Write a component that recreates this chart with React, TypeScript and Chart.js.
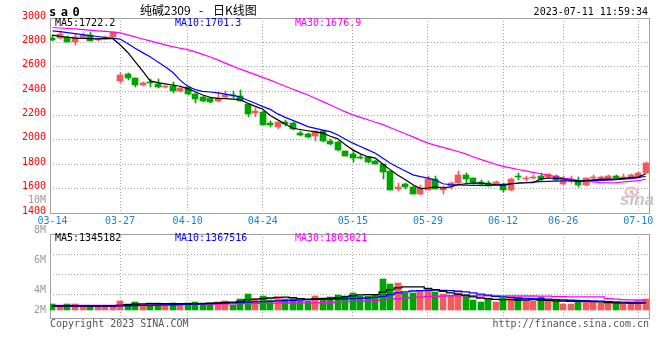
import React, { useEffect, useRef } from "react";
import { Chart, registerables } from "chart.js";

Chart.register(...registerables);

// ---------------- data ----------------
const DATES = [
  "03-14", "03-15", "03-16", "03-17", "03-20", "03-21", "03-22", "03-23", "03-24", "03-27",
  "03-28", "03-29", "03-30", "03-31", "04-03", "04-04", "04-06", "04-07", "04-10", "04-11",
  "04-12", "04-13", "04-14", "04-17", "04-18", "04-19", "04-20", "04-21", "04-24", "04-25",
  "04-26", "04-27", "04-28", "05-04", "05-05", "05-08", "05-09", "05-10", "05-11", "05-12",
  "05-15", "05-16", "05-17", "05-18", "05-19", "05-22", "05-23", "05-24", "05-25", "05-26",
  "05-29", "05-30", "05-31", "06-01", "06-02", "06-05", "06-06", "06-07", "06-08", "06-09",
  "06-12", "06-13", "06-14", "06-15", "06-16", "06-19", "06-20", "06-21", "06-26", "06-27",
  "06-28", "06-29", "06-30", "07-03", "07-04", "07-05", "07-06", "07-07", "07-10", "07-11",
];

const OPEN = [
  2840, 2833, 2841, 2800, 2840, 2860, 2818, 2830, 2841, 2480,
  2540, 2505, 2450, 2475, 2462, 2430, 2440, 2398, 2435, 2380,
  2352, 2345, 2315, 2348, 2360, 2363, 2293, 2222, 2230, 2138,
  2105, 2148, 2135, 2055, 2050, 2035, 2072, 1993, 1985, 1908,
  1882, 1862, 1857, 1828, 1803, 1745, 1593, 1636, 1617, 1560,
  1592, 1677, 1592, 1620, 1648, 1712, 1684, 1657, 1645, 1633,
  1640, 1588, 1707, 1678, 1687, 1703, 1692, 1706, 1638, 1666,
  1665, 1627, 1684, 1682, 1680, 1703, 1688, 1688, 1697, 1728,
];
const HIGH = [
  2858, 2885, 2850, 2865, 2878, 2882, 2840, 2852, 2885, 2551,
  2545, 2510, 2472, 2497, 2497, 2446, 2476, 2432, 2442, 2385,
  2358, 2350, 2396, 2404, 2404, 2409, 2298, 2260, 2235, 2155,
  2150, 2160, 2150, 2072, 2058, 2076, 2078, 2010, 1990, 1912,
  1920, 1875, 1862, 1832, 1806, 1748, 1650, 1645, 1620, 1632,
  1701, 1700, 1620, 1655, 1746, 1730, 1690, 1670, 1662, 1665,
  1645, 1685, 1732, 1700, 1712, 1725, 1722, 1712, 1700, 1700,
  1698, 1690, 1712, 1700, 1708, 1712, 1718, 1716, 1735, 1822,
];
const LOW = [
  2815, 2828, 2800, 2778, 2835, 2810, 2808, 2825, 2838, 2469,
  2495, 2432, 2445, 2437, 2425, 2425, 2382, 2390, 2370, 2300,
  2310, 2300, 2310, 2344, 2342, 2315, 2191, 2191, 2120, 2104,
  2088, 2115, 2085, 2031, 2015, 1994, 1985, 1962, 1908, 1865,
  1822, 1840, 1812, 1800, 1681, 1590, 1577, 1600, 1555, 1545,
  1588, 1595, 1555, 1600, 1640, 1640, 1640, 1625, 1618, 1628,
  1575, 1582, 1673, 1665, 1680, 1665, 1688, 1662, 1630, 1650,
  1615, 1622, 1678, 1676, 1675, 1680, 1680, 1684, 1690, 1725,
];
const CLOSE = [
  2822, 2866, 2805, 2846, 2858, 2813, 2830, 2845, 2882, 2530,
  2508, 2447, 2468, 2466, 2430, 2440, 2403, 2428, 2378, 2337,
  2322, 2308, 2345, 2366, 2356, 2318, 2212, 2238, 2125, 2118,
  2148, 2133, 2090, 2043, 2025, 2072, 1988, 1968, 1913, 1870,
  1848, 1852, 1815, 1805, 1738, 1592, 1617, 1615, 1560, 1603,
  1676, 1600, 1615, 1648, 1712, 1680, 1648, 1635, 1620, 1657,
  1587, 1680, 1697, 1684, 1699, 1675, 1717, 1668, 1680, 1672,
  1628, 1685, 1693, 1694, 1703, 1685, 1698, 1711, 1730, 1812,
];

const MA5 = [
  2860, 2850, 2842, 2835, 2832, 2830, 2828, 2830, 2832, 2780,
  2719, 2642, 2567, 2484, 2470, 2460, 2450, 2440, 2420, 2395,
  2368, 2350, 2341, 2338, 2335, 2330, 2300, 2275, 2251, 2200,
  2164, 2130, 2095, 2085, 2075, 2065, 2055, 2030, 2008, 1960,
  1918, 1885, 1862, 1850, 1800, 1754, 1710, 1673, 1632, 1600,
  1605, 1615, 1605, 1615, 1632, 1640, 1646, 1645, 1640, 1632,
  1626, 1638, 1646, 1648, 1650, 1678, 1687, 1685, 1681, 1670,
  1659, 1665, 1673, 1676, 1678, 1678, 1684, 1690, 1695, 1722.2,
];
const MA10 = [
  2894, 2888, 2880, 2872, 2864, 2856, 2848, 2840, 2834, 2827,
  2790, 2751, 2716, 2682, 2640, 2600, 2555, 2490, 2440, 2412,
  2398, 2393, 2385, 2375, 2365, 2352, 2325, 2300, 2273, 2250,
  2213, 2185, 2160, 2135, 2109, 2094, 2080, 2068, 2040, 2005,
  1973, 1945, 1918, 1891, 1850, 1809, 1775, 1745, 1713, 1698,
  1686, 1670, 1640, 1632, 1630, 1628, 1626, 1626, 1626, 1628,
  1634, 1640, 1644, 1648, 1654, 1657, 1660, 1662, 1664, 1664,
  1664, 1665, 1666, 1668, 1670, 1673, 1677, 1682, 1690, 1701.3,
];
const MA30 = [
  2922, 2918, 2914, 2910, 2905, 2900, 2895, 2890, 2885, 2878,
  2862, 2845, 2828, 2812, 2796, 2780, 2765, 2752, 2740, 2722,
  2702, 2680, 2656, 2630, 2605, 2580, 2558, 2535, 2513, 2490,
  2465, 2440, 2415, 2392, 2368, 2342, 2314, 2286, 2258, 2230,
  2205, 2185, 2165, 2145, 2125, 2100, 2075, 2050, 2025, 1998,
  1973, 1955, 1938, 1922, 1905, 1885, 1862, 1840, 1820, 1800,
  1782, 1770, 1757, 1745, 1733, 1722, 1710, 1698, 1687, 1680,
  1668, 1660, 1655, 1650, 1648, 1648, 1655, 1660, 1665, 1676.9,
];

// volumes, in millions
const VOLUME_M = [
  1.2, 0.84, 1.2, 1.2, 0.84, 0.84, 0.84, 0.84, 0.84, 1.73,
  1.2, 1.55, 0.96, 1.37, 1.37, 0.96, 1.37, 0.96, 1.37, 1.55,
  1.37, 1.37, 1.55, 1.73, 1.0, 2.09, 2.98, 2.09, 2.62, 1.8,
  2.44, 2.03, 2.03, 1.73, 1.73, 2.62, 2.27, 2.44, 2.74, 2.62,
  3.16, 2.62, 2.62, 2.74, 5.66, 4.77, 4.95, 3.16, 3.16, 3.52,
  3.87, 3.34, 2.98, 2.62, 3.16, 2.74, 1.91, 1.55, 2.09, 1.55,
  2.27, 2.44, 2.27, 1.73, 1.73, 2.44, 1.73, 1.73, 1.2, 1.2,
  1.91, 1.73, 1.55, 1.37, 1.37, 1.37, 1.2, 1.55, 1.73, 2.09,
];
const VOL_MA5_M = [
  0.8, 0.8, 0.8, 0.8, 0.8, 0.8, 0.8, 0.8, 0.8, 0.9,
  1.0, 1.1, 1.15, 1.2, 1.2, 1.2, 1.2, 1.2, 1.2, 1.2,
  1.2, 1.3, 1.35, 1.4, 1.45, 1.6, 1.9, 2.0, 2.1, 2.2,
  2.3, 2.35, 2.25, 2.1, 2.0, 2.05, 2.1, 2.15, 2.25, 2.4,
  2.6, 2.75, 2.8, 2.8, 3.3, 3.7, 4.0, 4.2, 4.2, 4.2,
  3.9, 3.7, 3.4, 3.1, 2.9, 2.7, 2.4, 2.2, 2.1, 1.95,
  1.9, 1.9, 1.85, 1.85, 1.9, 1.85, 1.8, 1.7, 1.65, 1.6,
  1.6, 1.6, 1.55, 1.5, 1.4, 1.35, 1.3, 1.3, 1.3, 1.345182,
];
const VOL_MA10_M = [
  0.75, 0.75, 0.75, 0.75, 0.75, 0.75, 0.75, 0.75, 0.75, 0.8,
  0.82, 0.85, 0.88, 0.9, 0.93, 0.96, 1.0, 1.03, 1.06, 1.1,
  1.15, 1.2, 1.25, 1.3, 1.35, 1.4, 1.45, 1.5, 1.55, 1.6,
  1.7, 1.75, 1.8, 1.85, 1.9, 1.95, 2.0, 2.0, 2.0, 2.05,
  2.1, 2.15, 2.2, 2.3, 2.5, 2.8, 3.1, 3.3, 3.45, 3.5,
  3.55, 3.6, 3.55, 3.5, 3.4, 3.3, 3.1, 2.9, 2.7, 2.5,
  2.4, 2.3, 2.2, 2.15, 2.1, 2.05, 2.0, 1.9, 1.85, 1.8,
  1.75, 1.72, 1.7, 1.65, 1.55, 1.5, 1.45, 1.4, 1.38, 1.367516,
];
const VOL_MA30_M = [
  0.9, 0.9, 0.9, 0.9, 0.9, 0.9, 0.9, 0.9, 0.9, 0.95,
  0.96, 0.97, 0.98, 1.0, 1.01, 1.02, 1.03, 1.05, 1.06, 1.08,
  1.1, 1.11, 1.12, 1.14, 1.15, 1.2, 1.22, 1.24, 1.26, 1.28,
  1.3, 1.31, 1.32, 1.33, 1.34, 1.35, 1.36, 1.37, 1.5, 1.55,
  1.6, 1.65, 1.7, 1.75, 1.9, 2.0, 2.1, 2.2, 2.3, 2.35,
  2.45, 2.5, 2.55, 2.6, 2.6, 2.6, 2.6, 2.58, 2.58, 2.57,
  2.57, 2.57, 2.56, 2.56, 2.56, 2.55, 2.55, 2.45, 2.45, 2.4,
  2.4, 2.4, 2.4, 2.4, 2.1, 2.0, 1.9, 1.88, 1.85, 1.803021,
];

const X_TICK_DATES = ["03-14", "03-27", "04-10", "04-24", "05-15", "05-29", "06-12", "06-26", "07-10"];
const PRICE_TICKS = [1400, 1600, 1800, 2000, 2200, 2400, 2600, 2800, 3000];
const VOL_TICK_LABELS = ["10M", "8M", "6M", "4M", "2M"];
const VOL_GRID_M = [2.8, 6.4, 10];

const SYMBOL = "sa0";
const TITLE_NAME = "纯碱2309";
const TITLE_DASH = "-";
const TITLE_KIND = "日K线图";
const TIMESTAMP = "2023-07-11 11:59:34";
const COPYRIGHT = "Copyright 2023 SINA.COM";
const SITE = "http://finance.sina.com.cn";
const WATERMARK = "sina";

// ---------------- style ----------------
const W = 660;
const H = 360;
const MONO = '"DejaVu Sans Mono", "Liberation Mono", monospace';
const CJK = '"Noto Sans CJK SC", sans-serif';
const UP = "#f35b5b";
const DOWN = "#00a400";
const GRID = "#a8a8a8";
const FRAME = "#a0a0a0";
const X_LABEL = "#1784dc";
const C_MA5 = "#000000";
const C_MA10 = "#0000ff";
const C_MA30 = "#ff00ff";

const N = DATES.length;
const IDX = DATES.map((_, i) => i);
const CANDLE_COLORS = IDX.map((i) => (CLOSE[i] >= OPEN[i] ? UP : DOWN));
const X_MIN = -0.33;
const X_MAX = N - 1 + 0.43;

const xAxis = (showLabels: boolean, height: number) => ({
  type: "linear",
  min: X_MIN,
  max: X_MAX,
  offset: false,
  afterBuildTicks: (s: any) => {
    s.ticks = X_TICK_DATES.map((d) => ({ value: DATES.indexOf(d) }));
  },
  afterFit: (s: any) => {
    s.height = height;
  },
  grid: {
    offset: false,
    drawTicks: false,
    lineWidth: 1,
    color: (c: any) => (c.tick && c.tick.value === 0 ? "rgba(0,0,0,0)" : GRID),
  },
  border: { display: false, dash: [1, 2] },
  ticks: {
    display: showLabels,
    autoSkip: false,
    maxRotation: 0,
    minRotation: 0,
    padding: 2,
    color: X_LABEL,
    font: { family: MONO, size: 10 },
    callback: (v: any) => DATES[v] ?? "",
  },
});

// snap bar elements to whole pixels so candles and volume bars are crisp
const snapPlugin = {
  id: "snap",
  afterDatasetsUpdate(chart: any) {
    chart.getSortedVisibleDatasetMetas().forEach((meta: any) => {
      if (meta.type !== "bar") return;
      const thin = meta.controller.getDataset().barThickness === 1;
      meta.data.forEach((el: any) => {
        el.x = Math.round(el.x) + (thin ? 0.5 : 0);
        el.y = Math.round(el.y);
        el.base = Math.round(el.base);
      });
    });
  },
};

const framePlugin = {
  id: "frame",
  beforeDatasetsDraw(chart: any) {
    const { ctx, chartArea: a } = chart;
    ctx.save();
    ctx.strokeStyle = FRAME;
    ctx.lineWidth = 1;
    ctx.setLineDash([]);
    ctx.strokeRect(Math.round(a.left) + 0.5, Math.round(a.top) + 0.5, Math.round(a.right - a.left), Math.round(a.bottom - a.top));
    ctx.restore();
  },
};

const priceTextPlugin = {
  id: "priceText",
  beforeDatasetsDraw(chart: any) {
    const { ctx, chartArea: a } = chart;
    ctx.save();
    // watermark
    ctx.fillStyle = "#c6c6c6";
    ctx.font = 'italic bold 17px "Liberation Sans", Arial, sans-serif';
    ctx.textAlign = "left";
    ctx.textBaseline = "alphabetic";
    ctx.fillText(WATERMARK, a.right - 29, a.bottom - 8);
    ctx.strokeStyle = "#f2b4b4";
    ctx.lineWidth = 2;
    ctx.beginPath();
    ctx.ellipse(a.right - 17.5, a.bottom - 21, 6, 4.5, 0, 0, Math.PI * 2);
    ctx.stroke();
    ctx.fillStyle = "#f2b4b4";
    ctx.beginPath();
    ctx.arc(a.right - 17.5, a.bottom - 21, 2, 0, Math.PI * 2);
    ctx.fill();
    ctx.restore();
  },
  afterDraw(chart: any) {
    const { ctx, chartArea: a } = chart;
    ctx.save();
    ctx.textBaseline = "middle";
    ctx.textAlign = "left";
    ctx.font = `10px ${MONO}`;
    ctx.fillStyle = C_MA5;
    ctx.fillText(`MA5:${MA5[N - 1].toFixed(1)}`, a.left + 5, a.top + 5.5);
    ctx.fillStyle = C_MA10;
    ctx.fillText(`MA10:${MA10[N - 1].toFixed(1)}`, a.left + 125, a.top + 5.5);
    ctx.fillStyle = C_MA30;
    ctx.fillText(`MA30:${MA30[N - 1].toFixed(1)}`, a.left + 245, a.top + 5.5);

    // symbol
    ctx.fillStyle = "#000";
    ctx.font = `bold 12px ${MONO}`;
    ctx.textBaseline = "alphabetic";
    SYMBOL.split("").forEach((ch, k) => ctx.fillText(ch, 49 + k * 11.7, 16));

    // title
    ctx.font = `12px ${CJK}`;
    ctx.textBaseline = "middle";
    ctx.fillText(TITLE_NAME, 140, 10.5);
    ctx.fillText(TITLE_DASH, 199, 10.5);
    ctx.fillText(TITLE_KIND, 213, 10.5);

    // timestamp
    ctx.font = `10px ${MONO}`;
    ctx.textAlign = "right";
    ctx.fillText(TIMESTAMP, 648, 12);
    ctx.restore();
  },
};

const volTextPlugin = {
  id: "volText",
  afterDraw(chart: any) {
    const { ctx, chartArea: a } = chart;
    ctx.save();
    ctx.textBaseline = "middle";
    ctx.textAlign = "left";
    ctx.font = `10px ${MONO}`;
    ctx.fillStyle = C_MA5;
    ctx.fillText(`MA5:${Math.round(VOL_MA5_M[N - 1] * 1e6)}`, a.left + 5, a.top + 4);
    ctx.fillStyle = C_MA10;
    ctx.fillText(`MA10:${Math.round(VOL_MA10_M[N - 1] * 1e6)}`, a.left + 125, a.top + 4);
    ctx.fillStyle = C_MA30;
    ctx.fillText(`MA30:${Math.round(VOL_MA30_M[N - 1] * 1e6)}`, a.left + 245, a.top + 4);

    // volume axis labels (Sina places them at fixed offsets)
    const offs = [117.6, 88, 57.6, 27.6, 7.6];
    ctx.fillStyle = "#9a9a9a";
    ctx.textAlign = "right";
    VOL_TICK_LABELS.forEach((t, k) => ctx.fillText(t, a.left - 4, a.bottom - offs[k]));

    ctx.fillStyle = "#555";
    ctx.textAlign = "left";
    ctx.fillText(COPYRIGHT, a.left, a.bottom + 6);
    ctx.textAlign = "right";
    ctx.fillText(SITE, a.right, a.bottom + 6);
    ctx.restore();
  },
};

function priceConfig(): any {
  const line = (data: number[], color: string) => ({
    type: "line",
    data: IDX.map((i) => ({ x: i, y: data[i] })),
    borderColor: color,
    borderWidth: 1.2,
    pointRadius: 0,
    tension: 0,
    order: 0,
  });
  return {
    type: "bar",
    data: {
      datasets: [
        line(MA5, C_MA5),
        line(MA10, C_MA10),
        line(MA30, C_MA30),
        {
          type: "bar",
          data: IDX.map((i) => ({ x: i, y: [OPEN[i], CLOSE[i]] })),
          backgroundColor: CANDLE_COLORS,
          barThickness: 6,
          minBarLength: 1,
          grouped: false,
          borderWidth: 0,
          order: 1,
        },
        {
          type: "bar",
          data: IDX.map((i) => ({ x: i, y: [LOW[i], HIGH[i]] })),
          backgroundColor: CANDLE_COLORS,
          barThickness: 1,
          grouped: false,
          borderWidth: 0,
          order: 2,
        },
      ],
    },
    options: {
      animation: false,
      responsive: false,
      maintainAspectRatio: false,
      events: [],
      layout: { padding: { left: 0, right: 11, top: 18, bottom: 127 } },
      plugins: { legend: { display: false }, tooltip: { enabled: false }, title: { display: false } },
      scales: {
        x: xAxis(true, 20),
        y: {
          type: "linear",
          min: 1400,
          max: 3000,
          afterBuildTicks: (s: any) => {
            s.ticks = PRICE_TICKS.map((v) => ({ value: v }));
          },
          afterFit: (s: any) => {
            s.width = 50;
          },
          grid: { drawTicks: false, color: GRID, lineWidth: 1 },
          border: { display: false, dash: [1, 2] },
          ticks: {
            color: "#ff0000",
            font: { family: MONO, size: 10 },
            padding: 4,
            labelOffset: -2,
            callback: (v: any) => String(v),
          },
        },
      },
    },
    plugins: [snapPlugin, framePlugin, priceTextPlugin],
  };
}

function volConfig(): any {
  const line = (data: number[], color: string) => ({
    type: "line",
    data: IDX.map((i) => ({ x: i, y: data[i] })),
    borderColor: color,
    borderWidth: 1.3,
    pointRadius: 0,
    stepped: "middle",
    order: 0,
  });
  return {
    type: "bar",
    data: {
      datasets: [
        line(VOL_MA5_M, C_MA5),
        line(VOL_MA10_M, C_MA10),
        line(VOL_MA30_M, C_MA30),
        {
          type: "bar",
          data: IDX.map((i) => ({ x: i, y: VOLUME_M[i] })),
          backgroundColor: CANDLE_COLORS,
          barThickness: 6,
          grouped: false,
          borderWidth: 0,
          order: 1,
        },
      ],
    },
    options: {
      animation: false,
      responsive: false,
      maintainAspectRatio: false,
      events: [],
      layout: { padding: { left: 0, right: 11, top: 234, bottom: 42 } },
      plugins: { legend: { display: false }, tooltip: { enabled: false } },
      scales: {
        x: xAxis(false, 0),
        y: {
          type: "linear",
          min: -1.36,
          max: 13.6,
          afterBuildTicks: (s: any) => {
            s.ticks = VOL_GRID_M.map((v) => ({ value: v }));
          },
          afterFit: (s: any) => {
            s.width = 50;
          },
          grid: { drawTicks: false, color: GRID, lineWidth: 1 },
          border: { display: false, dash: [1, 2] },
          ticks: { display: false },
        },
      },
    },
    plugins: [snapPlugin, framePlugin, volTextPlugin],
  };
}

export default function App() {
  const priceRef = useRef<HTMLCanvasElement>(null);
  const volRef = useRef<HTMLCanvasElement>(null);

  useEffect(() => {
    const c1 = new Chart(priceRef.current as HTMLCanvasElement, priceConfig());
    const c2 = new Chart(volRef.current as HTMLCanvasElement, volConfig());
    return () => {
      c1.destroy();
      c2.destroy();
    };
  }, []);

  const cs: React.CSSProperties = { position: "absolute", left: 0, top: 0, width: W, height: H };
  return (
    <div style={{ position: "fixed", left: 0, top: 0, width: W, height: H, background: "#fff" }}>
      <canvas ref={priceRef} width={W} height={H} style={cs} />
      <canvas ref={volRef} width={W} height={H} style={cs} />
    </div>
  );
}
